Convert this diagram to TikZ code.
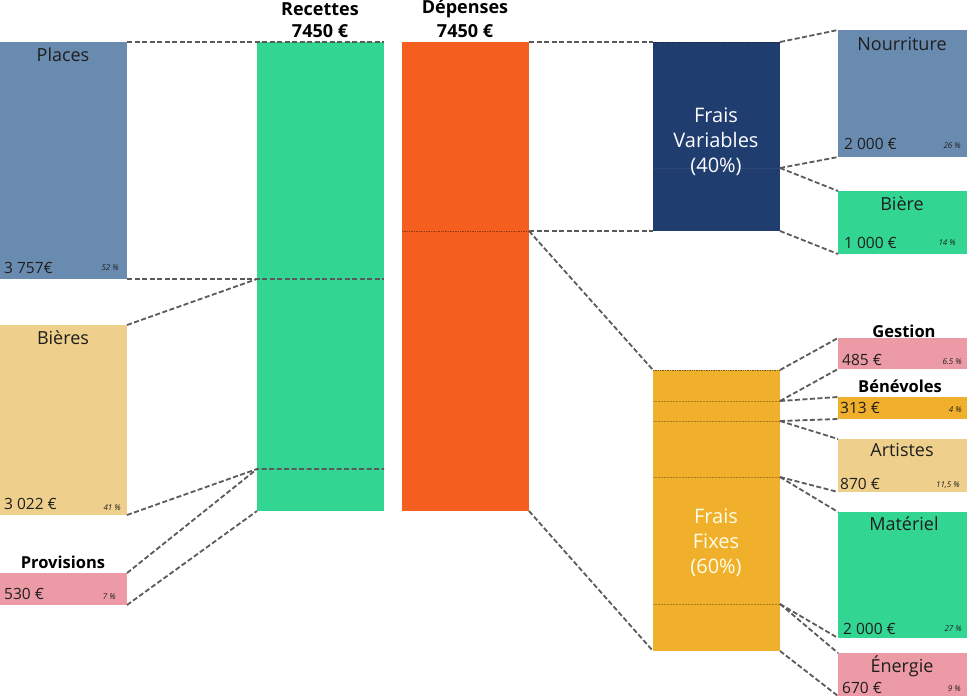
\documentclass[tikz,border=0pt]{standalone}
\usepackage{fontspec}
\setmainfont{Open Sans}
\definecolor{blueg}{HTML}{6A8BB0}
\definecolor{tan}{HTML}{EFCF8C}
\definecolor{pinkb}{HTML}{EC9AA5}
\definecolor{greenb}{HTML}{33D592}
\definecolor{orangeb}{HTML}{F45F1F}
\definecolor{navy}{HTML}{203D70}
\definecolor{yellowb}{HTML}{F0B02B}
\definecolor{linkgray}{HTML}{5A5A5A}
\definecolor{ink}{HTML}{1E1E1E}
\tikzset{
  bar/.style={draw=none, inner sep=0pt, outer sep=0pt, anchor=north west},
  link/.style={draw=linkgray, line width=1.8pt, dash pattern=on 5pt off 2.5pt},
  lbl/.style={font=\fontsize{18}{21}\selectfont, text=ink, inner sep=0pt},
  val/.style={font=\fontsize{15.5}{18}\selectfont, text=ink, inner sep=0pt, anchor=west},
  pct/.style={font=\fontsize{8}{9.5}\selectfont\itshape, text=ink, inner sep=0pt, anchor=east},
  head/.style={font=\fontsize{18}{20}\selectfont\bfseries, text=black, inner sep=0pt},
  bhead/.style={font=\fontsize{16.5}{19}\selectfont\bfseries, text=black, inner sep=0pt},
  big/.style={font=\fontsize{20}{25}\selectfont, align=center, inner sep=0pt},
  sepline/.style={densely dotted, line width=0.7pt}
}
\begin{document}
\begin{tikzpicture}[x=1pt,y=-1pt]
\useasboundingbox (0,0) rectangle (967,696);
% ---------- left boxes
\node[bar, fill=blueg, minimum width=127pt, minimum height=237pt] (places) at (0,42) {};
\node[bar, fill=tan, minimum width=127pt, minimum height=190pt] (bieres) at (0,325) {};
\node[bar, fill=pinkb, minimum width=127pt, minimum height=32pt] (prov) at (0,573) {};
% ---------- central bars
\node[bar, fill=greenb, minimum width=127pt, minimum height=469pt] (rec) at (257,42) {};
\node[bar, fill=orangeb, minimum width=127pt, minimum height=469pt] (dep) at (402,42) {};
\node[bar, fill=navy, minimum width=127pt, minimum height=189pt] (fv) at (653,42) {};
\node[bar, fill=yellowb, minimum width=127pt, minimum height=281pt] (ff) at (653,370) {};
% ---------- right boxes
\node[bar, fill=blueg, minimum width=129pt, minimum height=127pt] (nour) at (838,30) {};
\node[bar, fill=greenb, minimum width=129pt, minimum height=63pt] (biere) at (838,191) {};
\node[bar, fill=pinkb, minimum width=129pt, minimum height=31pt] (gest) at (838,338) {};
\node[bar, fill=yellowb, minimum width=129pt, minimum height=22pt] (bene) at (838,397) {};
\node[bar, fill=tan, minimum width=129pt, minimum height=53pt] (arti) at (838,439) {};
\node[bar, fill=greenb, minimum width=129pt, minimum height=126pt] (mate) at (838,512) {};
\node[bar, fill=pinkb, minimum width=129pt, minimum height=43pt] (ener) at (838,653) {};
% ---------- split coordinates
\coordinate (r1w) at (257,279); \coordinate (r1e) at (384,279);
\coordinate (r2w) at (257,469); \coordinate (r2e) at (384,469);
\coordinate (d1w) at (402,231); \coordinate (d1e) at (529,231);
\coordinate (v1w) at (653,168); \coordinate (v1e) at (780,168);
\coordinate (f1w) at (653,401); \coordinate (f1e) at (780,401);
\coordinate (f2w) at (653,421); \coordinate (f2e) at (780,421);
\coordinate (f3w) at (653,477); \coordinate (f3e) at (780,477);
\coordinate (f4w) at (653,604); \coordinate (f4e) at (780,604);
% ---------- inner separators
\draw[sepline, draw=orangeb!60!black] (d1w) -- (d1e);
\draw[sepline, draw=navy!60!black] (fv.north west) -- (fv.north east);
\draw[sepline, draw=navy!80!gray, line width=0.5pt] (v1w) -- (v1e);
\draw[sepline, draw=yellowb!50!black] (ff.north west) -- (ff.north east);
\foreach \a/\b in {f1w/f1e,f2w/f2e,f3w/f3e,f4w/f4e}
  \draw[sepline, draw=yellowb!70!black, line width=0.5pt] (\a) -- (\b);
% ---------- connectors left
\draw[link] (places.north east) -- (rec.north east);
\draw[link] (places.south east) -- (r1w) -- (r1e);
\draw[link] (bieres.north east) -- (r1w);
\draw[link] (bieres.south east) -- (r2w) -- (r2e);
\draw[link] (prov.north east) -- (r2w);
\draw[link] (prov.south east) -- (rec.south west);
% ---------- connectors middle
\draw[link] (dep.north east) -- (fv.north west);
\draw[link] (d1e) -- (fv.south west);
\draw[link] (d1e) -- (ff.north west);
\draw[link] (dep.south east) -- (ff.south west);
% ---------- connectors right
\draw[link] (fv.north east) -- (nour.north west);
\draw[link] (v1e) -- (nour.south west);
\draw[link] (v1e) -- (biere.north west);
\draw[link] (fv.south east) -- (biere.south west);
\draw[link] (ff.north east) -- (gest.north west);
\draw[link] (f1e) -- (gest.south west);
\draw[link] (f1e) -- (bene.north west);
\draw[link] (f2e) -- (bene.south west);
\draw[link] (f2e) -- (arti.north west);
\draw[link] (f3e) -- (arti.south west);
\draw[link] (f3e) -- (mate.north west);
\draw[link] (f4e) -- (mate.south west);
\draw[link] (f4e) -- (ener.north west);
\draw[link] (ff.south east) -- (ener.south west);
% ---------- headers
\node[head] (hrec1) at (320,9) {Recettes};
\node[head] (hrec2) at (320,31) {7450 €};
\node[head] (hdep1) at (465,9) {Dépenses};
\node[head] (hdep2) at (465,31) {7450 €};
% ---------- big labels
\node[big, text=white] (fvt) at (716,142) {Frais\\Variables\\(40\%)};
\node[big, text=white!92!yellow] (fft) at (716,543) {Frais\\Fixes\\(60\%)};
% ---------- left texts
\node[lbl] (tplaces) at (63,55) {Places};
\node[val] (vplaces) at (4,268) {3 757€};
\node[pct] (pplaces) at (119,268) {52 \%};
\node[lbl] (tbieres) at (63,338) {Bières};
\node[val] (vbieres) at (4,504) {3 022 €};
\node[pct] (pbieres) at (121,508) {41 \%};
\node[bhead] (tprov) at (63,562) {Provisions};
\node[val] (vprov) at (4,594) {530 €};
\node[pct] (pprov) at (116,597) {7 \%};
% ---------- right texts
\node[lbl] (tnour) at (902,44) {Nourriture};
\node[val] (vnour) at (844,144) {2 000 €};
\node[pct] (pnour) at (961,146) {26 \%};
\node[lbl] (tbiere) at (902,204) {Bière};
\node[val] (vbiere) at (844,243) {1 000 €};
\node[pct] (pbiere) at (956,243) {14 \%};
\node[bhead] (tgest) at (904,331) {Gestion};
\node[val] (vgest) at (842,360) {485 €};
\node[pct] (pgest) at (962,362) {6.5 \%};
\node[bhead] (tbene) at (900,386) {Bénévoles};
\node[val] (vbene) at (840,408) {313 €};
\node[pct] (pbene) at (962,410) {4 \%};
\node[lbl] (tarti) at (902,450) {Artistes};
\node[val] (varti) at (840,484) {870 €};
\node[pct] (parti) at (960,485) {11,5 \%};
\node[lbl] (tmate) at (904,524) {Matériel};
\node[val] (vmate) at (843,629) {2 000 €};
\node[pct] (pmate) at (962,629) {27 \%};
\node[lbl] (tener) at (902,666) {Énergie};
\node[val] (vener) at (842,688) {670 €};
\node[pct] (pener) at (961,689) {9 \%};
\end{tikzpicture}
\end{document}
